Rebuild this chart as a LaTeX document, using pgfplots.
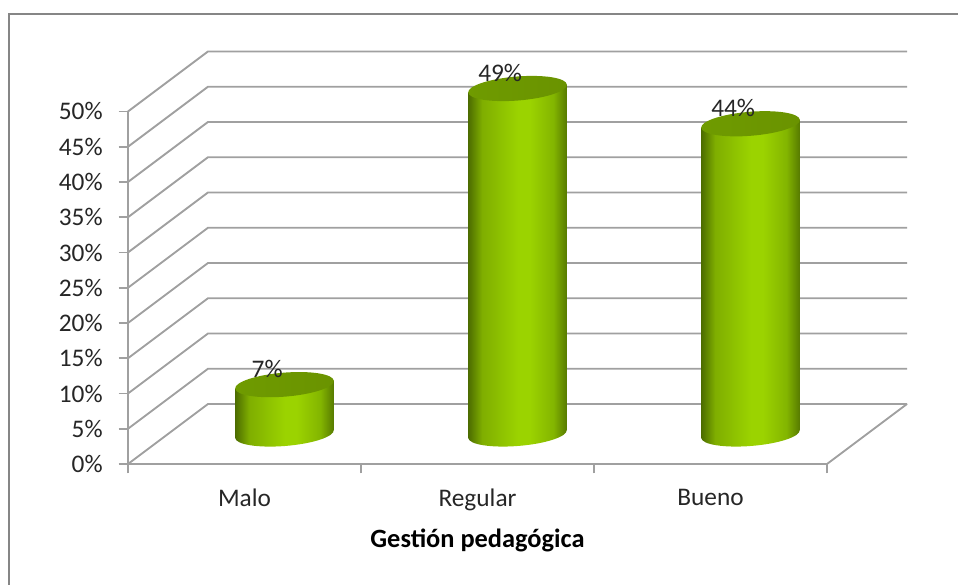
\documentclass[border=0pt]{standalone}
\usepackage{fontspec}
\setmainfont{Carlito}
\usepackage{pgfplots}
\pgfplotsset{compat=1.18}
\definecolor{gridc}{HTML}{A0A0A0}
\definecolor{framec}{HTML}{868686}
\definecolor{txt}{HTML}{262626}
\definecolor{ce}{HTML}{4C6C00}
\definecolor{cm}{HTML}{7FAE00}
\definecolor{cc}{HTML}{9BD300}
\definecolor{cr}{HTML}{83B500}
\definecolor{cx}{HTML}{557800}
\definecolor{tl}{HTML}{6F9B00}
\definecolor{tr}{HTML}{6A9300}
\pgfdeclarehorizontalshading{cylside}{100bp}{color(0bp)=(ce);color(25bp)=(ce);color(32bp)=(cm);color(50bp)=(cc);color(56bp)=(cc);color(68bp)=(cr);color(75bp)=(cx);color(100bp)=(cx)}
\pgfdeclarehorizontalshading{cyltop}{100bp}{color(0bp)=(tl);color(25bp)=(tl);color(75bp)=(tr);color(100bp)=(tr)}
% one cylinder, drawn at the data point: its height comes from the value
\pgfdeclareplotmark{cylinder}{%
  \pgfmathsetmacro\hh{\rawy*5.2875}%
  \pgfmathsetmacro\ac{37.1*cos(4.6)}%
  \pgfmathsetmacro\as{37.1*sin(4.6)}%
  \pgfmathsetmacro\bc{9*cos(4.6)}%
  \pgfmathsetmacro\bs{9*sin(4.6)}%
  \pgfmathsetmacro\by{-\hh-\as}%
  \pgfscope
    \pgfpathmoveto{\pgfpoint{-\ac pt}{\by pt}}%
    \pgfpatharcaxes{180}{360}{\pgfpoint{\ac pt}{\as pt}}{\pgfpoint{-\bs pt}{\bc pt}}%
    \pgfpathlineto{\pgfpoint{\ac pt}{\as pt}}%
    \pgfpathlineto{\pgfpoint{-\ac pt}{-\as pt}}%
    \pgfpathclose
    \pgfshadepath{cylside}{0}%
    \pgfusepath{discard}%
  \endpgfscope
  \pgfscope
    \pgfpathellipse{\pgfpointorigin}{\pgfpoint{\ac pt}{\as pt}}{\pgfpoint{-\bs pt}{\bc pt}}%
    \pgfshadepath{cyltop}{0}%
    \pgfusepath{discard}%
  \endpgfscope
}
\newcommand\lblfont{\fontsize{19}{22}\selectfont}
\begin{document}
\begin{tikzpicture}
\useasboundingbox (0,0) rectangle (718.5pt,438.75pt);
\draw[framec,line width=1.5pt] (6.75pt,0) -- (6.75pt,428.25pt) -- (718.5pt,428.25pt);
\begin{axis}[
  at={(96pt,90.75pt)}, anchor=south west,
  scale only axis, width=524.25pt, height=264.4pt,
  xmin=0, xmax=3, ymin=0, ymax=50,
  clip=false,
  axis x line=bottom, axis y line=left,
  axis line style={gridc,line width=1.4pt,-},
  tick style={gridc,line width=1.4pt},
  tick align=outside, major tick length=7pt,
  xtick={0,1,2,3}, xticklabels={},
  extra x ticks={0.5,1.5,2.5},
  extra x tick labels={Malo,Regular,Bueno},
  extra x tick style={major tick length=0pt,
    xticklabel style={yshift=-15.5pt}},
  ytick={0,5,...,50},
  yticklabel={\pgfmathprintnumber{\tick}\%},
  /pgf/number format/assume math mode=true,
  tick label style={font=\lblfont,text=txt},
  yticklabel style={xshift=-8.5pt},
  xlabel={\textbf{Gestión pedagógica}},
  xlabel style={font=\fontsize{19.8}{22}\selectfont,text=black,yshift=0.5pt},
]
\pgfplotsinvokeforeach{0,5,...,50}{
  \draw[gridc,line width=1.4pt] (axis cs:0,#1) -- ++(60pt,45pt) -- ++(524.25pt,0);
}
\draw[gridc,line width=1.4pt] (axis cs:3,0) -- ++(60pt,45pt);
\end{axis}
\begin{axis}[
  at={(126pt,113.25pt)}, anchor=south west,
  scale only axis, width=524.25pt, height=264.4pt,
  xmin=0, xmax=3, ymin=0, ymax=50,
  clip=false, hide axis,
  /pgf/number format/assume math mode=true,
]
\addplot[
  scatter, only marks, mark=cylinder,
  point meta=y,
  visualization depends on={rawy \as \rawy},
  nodes near coords={\pgfmathprintnumber{\pgfplotspointmeta}\%},
  every node near coord/.append style={anchor=center,xshift=-13pt,yshift=11.5pt,
    font=\lblfont,text=txt},
] coordinates {(0.5,7) (1.5,49) (2.5,44)};
\end{axis}
\end{tikzpicture}
\end{document}
